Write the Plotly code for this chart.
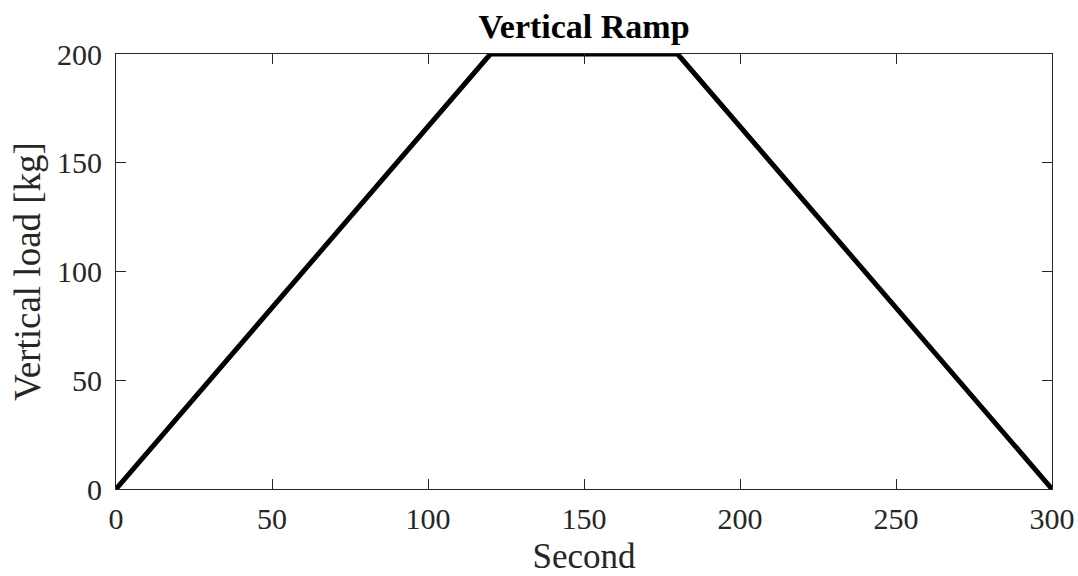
import plotly.graph_objects as go

seconds = [0, 120, 180, 300]
load_kg = [0, 200, 200, 0]
x_ticks = [0, 50, 100, 150, 200, 250, 300]
y_ticks = [0, 50, 100, 150, 200]

font_family = "Liberation Serif, Times New Roman, serif"
axis_col = "#262626"

fig = go.Figure()
fig.add_trace(go.Scatter(x=seconds, y=load_kg, mode="lines",
                         line=dict(color="black", width=5), showlegend=False))

axis_common = dict(showgrid=False, zeroline=False, showline=True, linecolor=axis_col,
                   linewidth=1.2, mirror="ticks", ticks="inside", ticklen=10,
                   tickwidth=1.2, tickcolor=axis_col, automargin=False,
                   tickfont=dict(family=font_family, size=30, color=axis_col))

fig.update_layout(
    width=1078, height=576,
    margin=dict(l=116, r=26, t=54, b=87),
    paper_bgcolor="white", plot_bgcolor="white",
    title=dict(text="<b>Vertical Ramp</b>", x=0.5, xref="paper", xanchor="center",
               y=1, yref="paper", yanchor="bottom", pad=dict(b=16),
               font=dict(family=font_family, size=34, color="black")),
    xaxis=dict(range=[0, 300], tickvals=x_ticks, ticklabelstandoff=3,
               title=dict(text="Second", font=dict(family=font_family, size=35, color=axis_col), standoff=16),
               **axis_common),
    yaxis=dict(range=[0, 200], tickvals=y_ticks, ticklabelstandoff=7,
               title=dict(text="Vertical load [kg]", font=dict(family=font_family, size=37, color=axis_col), standoff=4),
               **axis_common),
)

fig.write_html("out.html")
